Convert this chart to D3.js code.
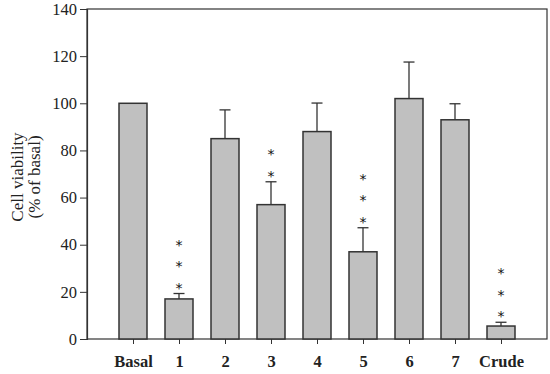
<!DOCTYPE html>
<html>
<head>
<meta charset="utf-8">
<script src="https://cdn.jsdelivr.net/npm/d3@7"></script>
<style>
  body { margin: 0; background: #fff; }
  svg { display: block; }
</style>
</head>
<body>
<svg id="chart" width="550" height="374"></svg>
<script>
const categories = ["Basal", "1", "2", "3", "4", "5", "6", "7", "Crude"];
const viability = [100, 17, 85, 57, 88, 37, 102, 93, 5.5];
const errorTop = [100, 19.3, 97.2, 66.7, 100.1, 47.2, 117.5, 99.8, 7.1];
const stars = [0, 3, 0, 2, 0, 3, 0, 0, 3];
const yTicks = [0, 20, 40, 60, 80, 100, 120, 140];

const svg = d3.select("#chart");
const plotLeft = 87, plotRight = 547, plotTop = 9, plotBottom = 339;

const x = d3.scalePoint().domain(categories).range([plotLeft, plotRight]).padding(1);
const y = d3.scaleLinear().domain([0, 140]).range([plotBottom, plotTop]);
const barW = 28;
const serif = "'Liberation Serif', 'DejaVu Serif', serif";

// frame
svg.append("rect")
  .attr("x", plotLeft).attr("y", plotTop)
  .attr("width", plotRight - plotLeft).attr("height", plotBottom - plotTop)
  .attr("fill", "none").attr("stroke", "#333").attr("stroke-width", 1.2);

// bars
svg.append("g").selectAll("rect")
  .data(categories)
  .join("rect")
  .attr("x", d => x(d) - barW / 2)
  .attr("y", (d, i) => y(viability[i]))
  .attr("width", barW)
  .attr("height", (d, i) => plotBottom - y(viability[i]))
  .attr("fill", "#c0c0c0")
  .attr("stroke", "#333")
  .attr("stroke-width", 1.5);

// error bars
const err = svg.append("g").attr("stroke", "#333").attr("stroke-width", 1.3);
categories.forEach((c, i) => {
  if (errorTop[i] <= viability[i]) return;
  err.append("line")
    .attr("x1", x(c)).attr("x2", x(c))
    .attr("y1", y(viability[i])).attr("y2", y(errorTop[i]));
  err.append("line")
    .attr("x1", x(c) - 5.5).attr("x2", x(c) + 5.5)
    .attr("y1", y(errorTop[i])).attr("y2", y(errorTop[i]));
});

// significance stars
categories.forEach((c, i) => {
  for (let k = 0; k < stars[i]; k++) {
    svg.append("text")
      .attr("x", x(c))
      .attr("y", y(errorTop[i]) - 6 - k * 21.5 + 5)
      .attr("text-anchor", "middle")
      .attr("font-family", "'DejaVu Sans', sans-serif")
      .attr("font-size", 14)
      .attr("fill", "#111")
      .text("*");
  }
});

// y axis
const yAxis = svg.append("g")
  .attr("transform", `translate(${plotLeft},0)`)
  .call(d3.axisLeft(y).tickValues(yTicks).tickSize(7).tickPadding(3));
yAxis.attr("font-size", null).attr("font-family", null);
yAxis.select(".domain").attr("stroke", "#333").attr("stroke-width", 1.2);
yAxis.selectAll(".tick line").attr("stroke", "#333");
yAxis.selectAll("text")
  .style("font-family", serif).style("font-size", "16.5px").attr("fill", "#222");

// x axis
const xAxis = svg.append("g")
  .attr("transform", `translate(0,${plotBottom})`)
  .call(d3.axisBottom(x).tickSize(5).tickPadding(11));
xAxis.attr("font-size", null).attr("font-family", null);
xAxis.select(".domain").remove();
xAxis.selectAll(".tick line").attr("stroke", "#333");
xAxis.selectAll("text")
  .style("font-family", serif).style("font-size", "16.5px").style("font-weight", "bold").attr("fill", "#222");

// y label
const yl = svg.append("text")
  .attr("transform", "translate(26,177) rotate(-90)")
  .attr("text-anchor", "middle")
  .style("font-family", serif).style("font-size", "17px").attr("fill", "#222");
yl.append("tspan").attr("x", 0).attr("dy", -3).text("Cell viability");
yl.append("tspan").attr("x", 0).attr("dy", 17).text("(% of basal)");
</script>
</body>
</html>
